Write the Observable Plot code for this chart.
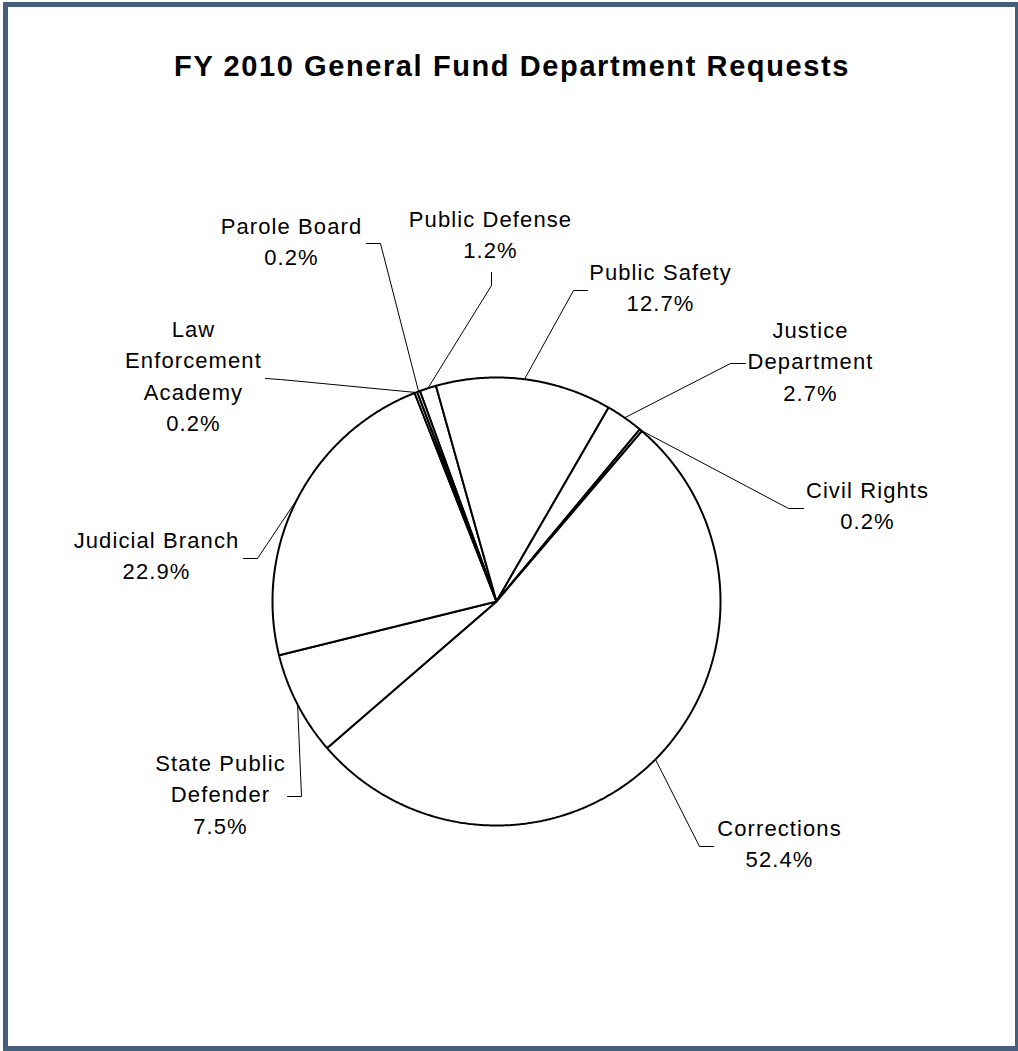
<!DOCTYPE html>
<html><head><meta charset="utf-8">
<script src="https://cdn.jsdelivr.net/npm/d3@7"></script>
<script src="https://cdn.jsdelivr.net/npm/@observablehq/plot@0.6"></script>
<style>
body{margin:0;background:#fff;}
#wrap{position:relative;width:1018px;height:1051px;overflow:hidden;}
#chart{position:absolute;left:0;top:0;}
#frame{position:absolute;left:3px;top:2px;width:1017px;height:1049px;border:5px solid #475d7c;box-sizing:border-box;}
#title{position:absolute;left:0;width:1024px;top:52px;text-align:center;font:bold 29px "Liberation Sans",Arial,sans-serif;letter-spacing:1.6px;line-height:29px;color:#000;}
</style></head><body>
<div id="wrap"><div id="chart"></div><div id="frame"></div><div id="title">FY 2010 General Fund Department Requests</div></div>
<script>
// ---- data ----
const departments = ["Public Defense","Public Safety","Justice Department","Civil Rights","Corrections","State Public Defender","Judicial Branch","Law Enforcement Academy","Parole Board"];
const shares = [1.2, 12.7, 2.7, 0.2, 52.4, 7.5, 22.9, 0.2, 0.2];
const labelLines = [["Public Defense"],["Public Safety"],["Justice","Department"],["Civil Rights"],["Corrections"],["State Public","Defender"],["Judicial Branch"],["Law","Enforcement","Academy"],["Parole Board"]];

// ---- layout (positions only) ----
const cx = 496, cy = 601, R = 224, startDeg = -20;
const labelX = [490, 660, 810, 867, 779, 220, 156, 193, 291];
const labelY = [226, 279, 337, 497, 835, 770, 547, 336, 233];
const elbow = [[491,285],[573,290],[730,363],[788,508],[699,846],[301,796],[257,558],[280,379],[380,243]];
const lineEnd = [[491,272],[587,290],[745,363],[803,508],[713,846],[287,796],[243,558],[265,378],[366,243]];
const lineH = 31.5;

const rows = departments.map((name, i) => ({name, share: shares[i]}));
const arcs = d3.pie().sort(null).value(d => d.share)
  .startAngle(startDeg * Math.PI / 180).endAngle(startDeg * Math.PI / 180 + 2 * Math.PI)(rows);

const pt = (a, r) => ({x: cx + r * Math.sin(a), y: cy - r * Math.cos(a)});

const slicePts = [];
arcs.forEach(a => {
  const n = Math.max(3, Math.ceil((a.endAngle - a.startAngle) / (0.4 * Math.PI / 180)));
  slicePts.push({name: a.data.name, ...pt(0, 0)});
  for (let k = 0; k <= n; k++) {
    const ang = a.startAngle + (a.endAngle - a.startAngle) * k / n;
    slicePts.push({name: a.data.name, ...pt(ang, R)});
  }
  slicePts.push({name: a.data.name, ...pt(0, 0)});
});

const leaderPts = [];
arcs.forEach((a, i) => {
  const mid = (a.startAngle + a.endAngle) / 2;
  leaderPts.push({name: a.data.name, ...pt(mid, R)});
  leaderPts.push({name: a.data.name, x: elbow[i][0], y: elbow[i][1]});
  leaderPts.push({name: a.data.name, x: lineEnd[i][0], y: lineEnd[i][1]});
});

const textRows = [];
arcs.forEach((a, i) => {
  const lines = [...labelLines[i], a.data.share.toFixed(1) + "%"];
  lines.forEach((t, j) => textRows.push({x: labelX[i], y: labelY[i] + j * lineH, text: t}));
});

const chart = Plot.plot({
  width: 1018, height: 1051, margin: 0,
  x: {domain: [0, 1018], range: [0, 1018], axis: null},
  y: {domain: [0, 1051], range: [0, 1051], axis: null},
  style: {background: "white", letterSpacing: "1.1px", fontFamily: "'Liberation Sans', Arial, sans-serif"},
  marks: [
    Plot.line(slicePts, {x: "x", y: "y", z: "name", fill: "white", stroke: "black", strokeWidth: 2, strokeLinejoin: "miter"}),
    Plot.line(leaderPts, {x: "x", y: "y", z: "name", stroke: "black", strokeWidth: 1}),
    Plot.text(textRows, {x: "x", y: "y", text: "text", fontSize: 22, fontFamily: "'Liberation Sans', Arial, sans-serif", lineAnchor: "bottom", textAnchor: "middle", fill: "black"})
  ]
});
document.getElementById("chart").appendChild(chart);
</script>
</body></html>
